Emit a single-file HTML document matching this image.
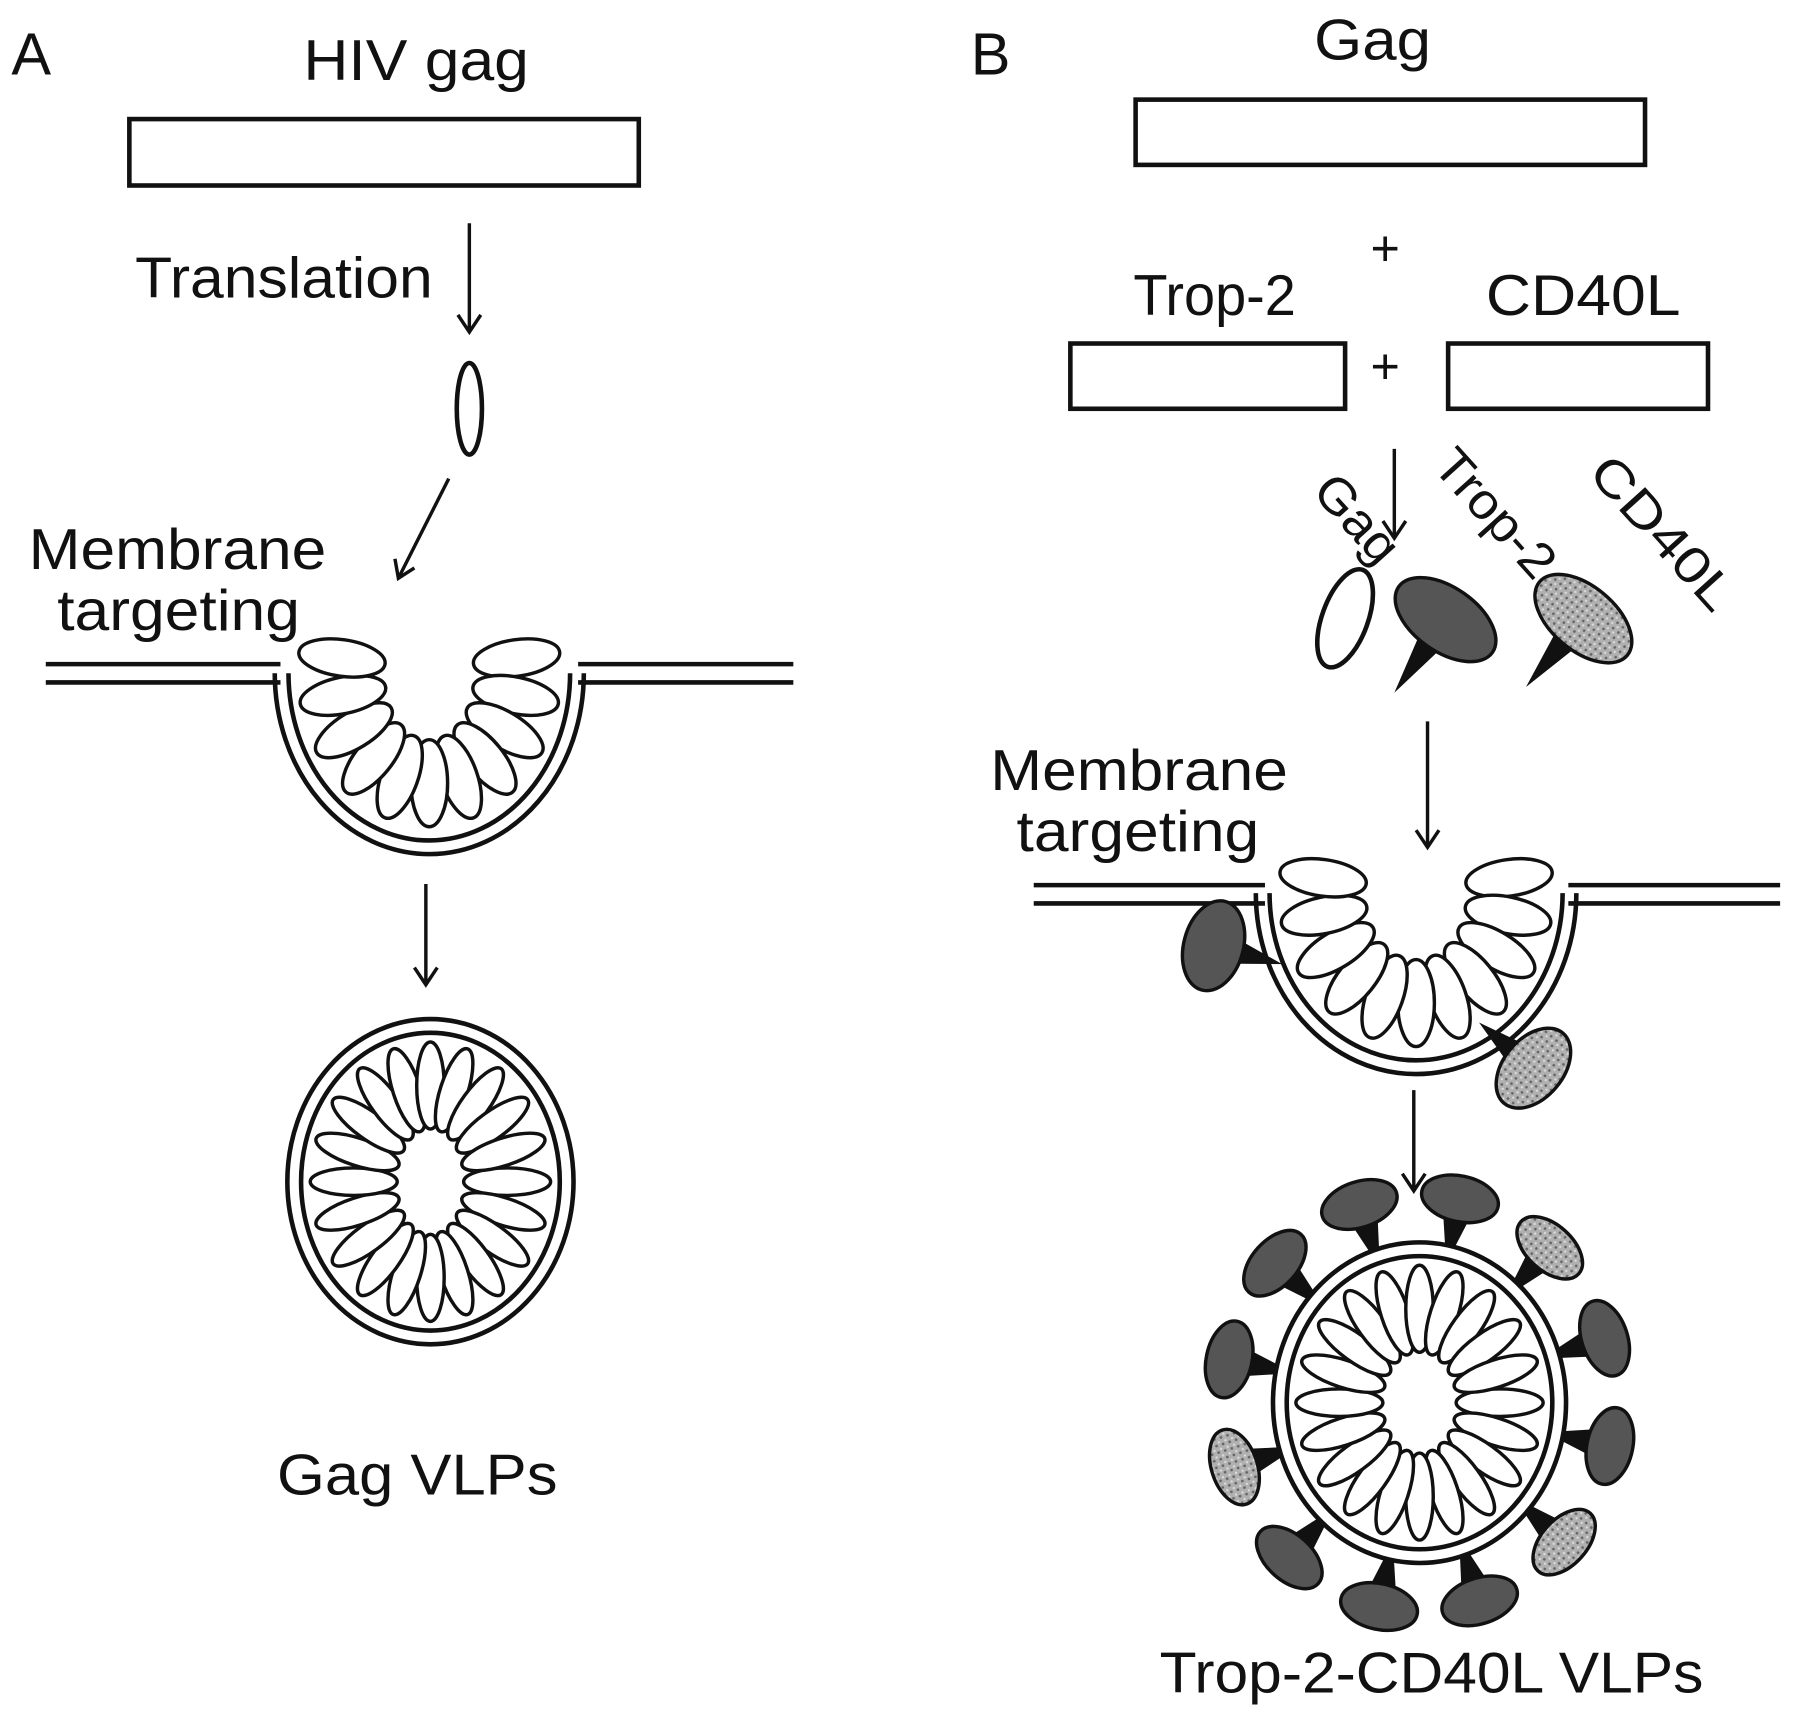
<!DOCTYPE html>
<html><head><meta charset="utf-8"><style>
html,body{margin:0;padding:0;background:#fff;}
svg{display:block;}
text{font-family:"Liberation Sans",Arial,sans-serif;fill:#111;}
</style></head><body>
<svg id="s" width="1795" height="1721" viewBox="0 0 1568 1503" preserveAspectRatio="none" xmlns="http://www.w3.org/2000/svg">
<defs>
<pattern id="st" width="6" height="6" patternUnits="userSpaceOnUse">
<rect width="6" height="6" fill="#b0b0b0"/><circle cx="1.5" cy="1.5" r="1.2" fill="#666"/><circle cx="4.5" cy="4" r="1" fill="#ddd"/>
</pattern>
</defs>
<g stroke="#111" stroke-width="4" fill="none">
<rect x="113" y="104" width="445" height="58"/>
<rect x="992" y="87" width="445" height="57"/>
<rect x="935" y="300" width="240" height="57"/>
<rect x="1265" y="300" width="227" height="57"/>
</g>
<g stroke="#111" stroke-width="3" fill="none">
<path d="M410,195 L410,290" /><path d="M400,275 L410,290 L420,275"/>
<path d="M392,418 L348,505"/><path d="M345,488 L348,505 L362,496"/>
<path d="M372,772 L372,860"/><path d="M362,845 L372,860 L382,845"/>
<path d="M1218,392 L1218,470"/><path d="M1208,455 L1218,470 L1228,455"/>
<path d="M1247,630 L1247,740"/><path d="M1237,725 L1247,740 L1257,725"/>
<path d="M1235,952 L1235,1040"/><path d="M1225,1025 L1235,1040 L1245,1025"/>
</g>
<ellipse cx="410" cy="357" rx="11" ry="40" fill="#fff" stroke="#111" stroke-width="4"/>
<g id="g"></g>
<text x="10" y="65" font-size="52">A</text>
<text x="265" y="70" font-size="50" textLength="197" lengthAdjust="spacingAndGlyphs">HIV gag</text>
<text x="118" y="260" font-size="50" textLength="260" lengthAdjust="spacingAndGlyphs">Translation</text>
<text x="25" y="497" font-size="50" textLength="260" lengthAdjust="spacingAndGlyphs">Membrane</text>
<text x="50" y="550" font-size="50" textLength="212" lengthAdjust="spacingAndGlyphs">targeting</text>
<text x="242" y="1305" font-size="50" textLength="245" lengthAdjust="spacingAndGlyphs">Gag VLPs</text>
<text x="848" y="65" font-size="52">B</text>
<text x="1148" y="52" font-size="50" textLength="102" lengthAdjust="spacingAndGlyphs">Gag</text>
<text x="1210" y="232" font-size="44" text-anchor="middle">+</text>
<text x="1210" y="335" font-size="44" text-anchor="middle">+</text>
<text x="990" y="275" font-size="50" textLength="142" lengthAdjust="spacingAndGlyphs">Trop-2</text>
<text x="1298" y="275" font-size="50" textLength="170" lengthAdjust="spacingAndGlyphs">CD40L</text>
<text font-size="44" textLength="88" lengthAdjust="spacingAndGlyphs" transform="translate(1145,430) rotate(48)">Gag</text>
<text font-size="44" textLength="135" lengthAdjust="spacingAndGlyphs" transform="translate(1250,408) rotate(48)">Trop-2</text>
<text font-size="44" textLength="165" lengthAdjust="spacingAndGlyphs" transform="translate(1386,414) rotate(48)">CD40L</text>
<text x="865" y="690" font-size="50" textLength="260" lengthAdjust="spacingAndGlyphs">Membrane</text>
<text x="888" y="743" font-size="50" textLength="212" lengthAdjust="spacingAndGlyphs">targeting</text>
<text x="1013" y="1478" font-size="50" textLength="475" lengthAdjust="spacingAndGlyphs">Trop-2-CD40L VLPs</text>
</svg>
<script>
var g=document.getElementById('g'),NS='http://www.w3.org/2000/svg';
function el(n,a){var e=document.createElementNS(NS,n);for(var k in a)e.setAttribute(k,a[k]);g.appendChild(e);return e;}
function ell(cx,cy,rx,ry,rot,fill,sw){el('ellipse',{cx:cx,cy:cy,rx:rx,ry:ry,transform:'rotate('+rot+' '+cx+' '+cy+')',fill:fill||'#fff',stroke:'#111','stroke-width':sw||3});}
function spike(x,y,ang,fill,L,a,b){
 L=L||62;a=a||24;b=b||42;
 var r=ang*Math.PI/180,dx=Math.cos(r),dy=Math.sin(r),px=-dy,py=dx;
 var ex=x+dx*L,ey=y+dy*L;
 el('path',{d:'M'+x+','+y+' L'+(ex+px*16)+','+(ey+py*16)+' L'+(ex-px*16)+','+(ey-py*16)+'Z',fill:'#111'});
 ell(ex,ey,a,b,ang,fill,3);
}
function membrane(x1,x2,x3,x4,y,cx,cy,rx,ry){
 el('path',{d:'M'+x1+','+y+' L'+x2+','+y+' M'+x1+','+(y+16)+' L'+x2+','+(y+16)+' M'+x3+','+y+' L'+x4+','+y+' M'+x3+','+(y+16)+' L'+x4+','+(y+16),stroke:'#111','stroke-width':4,fill:'none'});
 el('path',{d:'M'+(cx-rx)+','+cy+' A'+rx+','+ry+' 0 0 0 '+(cx+rx)+','+cy,stroke:'#111','stroke-width':4,fill:'none'});
 el('path',{d:'M'+(cx-rx+12)+','+cy+' A'+(rx-12)+','+(ry-12)+' 0 0 0 '+(cx+rx-12)+','+cy,stroke:'#111','stroke-width':4,fill:'none'});
 var n=11;for(var i=0;i<n;i++){var t=(-8+i*196/(n-1))*Math.PI/180;
  var x=cx+Math.cos(t)*(rx-58),y2=cy+Math.sin(t)*(ry-62);
  ell(x,y2,16,38,(t*180/Math.PI)+90,'#fff',3);}
}
function vlp(cx,cy,rx,ry){
 el('ellipse',{cx:cx,cy:cy,rx:rx,ry:ry,fill:'#fff',stroke:'#111','stroke-width':4});
 el('ellipse',{cx:cx,cy:cy,rx:rx-12,ry:ry-12,fill:'#fff',stroke:'#111','stroke-width':4});
 for(var i=0;i<20;i++){var t=i*18*Math.PI/180;
  ell(cx+Math.cos(t)*(rx-58),cy+Math.sin(t)*(ry-58),12,38,i*18+90,'#fff',3);}
}
membrane(40,245,505,693,580,375,588,135,158);
vlp(376,1032,125,142);
membrane(903,1105,1370,1555,773,1237,780,140,158);
spike(1120,842,195,'#555',62,26,40);
spike(1292,893,40,'url(#st)',62,26,40);
// spikes on VLP drawn first so ring overlays stems
var cols=['#555','#555','url(#st)','#555','#555','url(#st)','#555','#555','#555','url(#st)','#555','#555'];
for(var i=0;i<12;i++){var a=-108+i*30,t=a*Math.PI/180;
 spike(1240+Math.cos(t)*112,1225+Math.sin(t)*124,a,cols[i],58,20,34);}
vlp(1240,1225,128,140);
ell(1175,540,20,45,20,'#fff',4);
spike(1218,605,-55,'#555',78,28,50);
spike(1333,600,-50,'url(#st)',78,28,50);
</script>
</body></html>
